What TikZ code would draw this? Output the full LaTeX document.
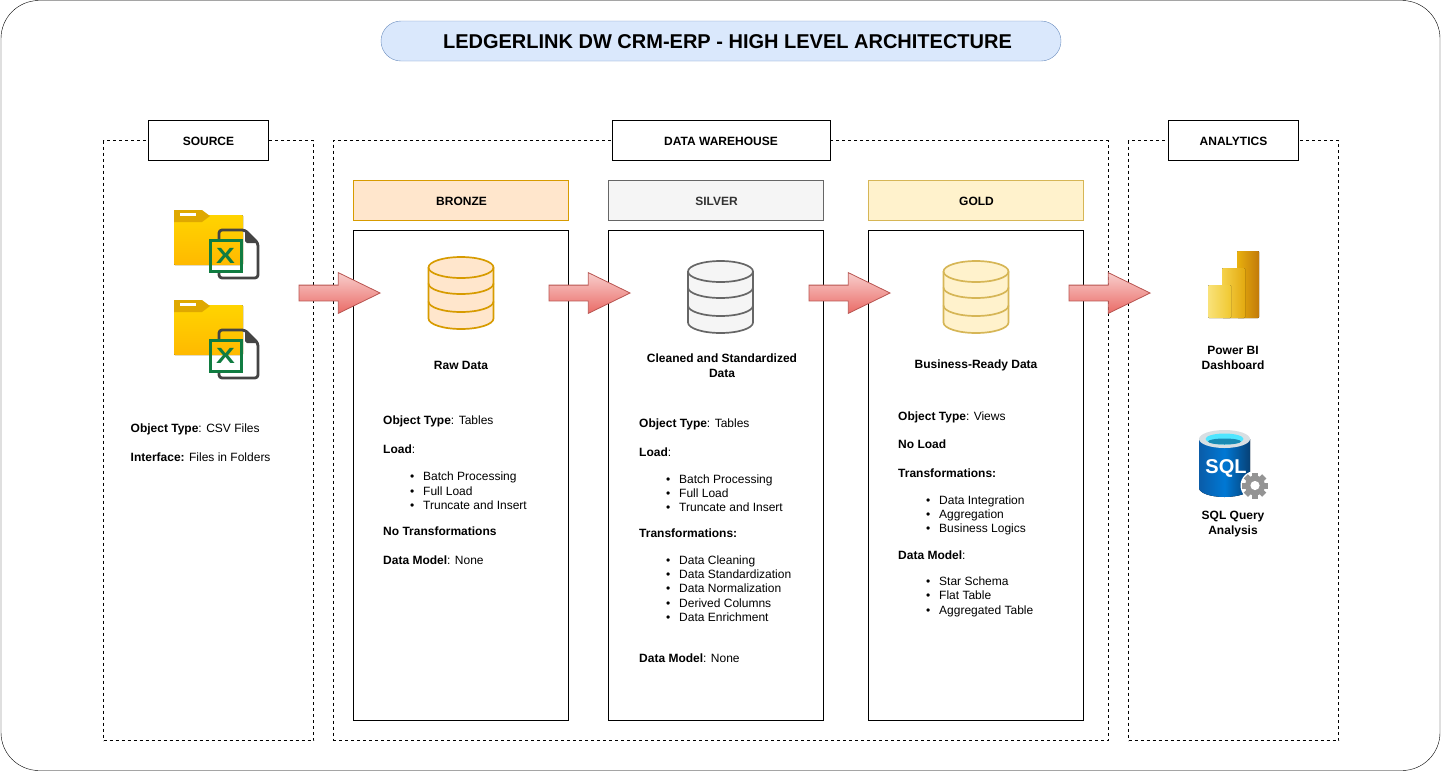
\documentclass[tikz,border=0pt]{standalone}
\usepackage{fontspec}
\setmainfont{Liberation Sans}
\usepackage{xcolor}
\usetikzlibrary{calc, positioning, arrows.meta, shapes.arrows, shapes.geometric}
\definecolor{xlgreen}{HTML}{107C41}
\definecolor{filegray}{HTML}{444444}
\definecolor{arrowline}{HTML}{B85450}
\definecolor{arrowtop}{HTML}{F8CECC}
\definecolor{arrowbot}{HTML}{EA6B66}
\definecolor{folderhi}{HTML}{FFD400}
\definecolor{folderlo}{HTML}{FFB900}
\definecolor{foldertab}{HTML}{DFA800}
\definecolor{geargray}{HTML}{949494}
\definecolor{titleline}{HTML}{6C8EBF}
\definecolor{titlefill}{HTML}{DAE8FC}
\definecolor{bronzefill}{HTML}{FFE6CC}
\definecolor{bronzeline}{HTML}{D79B00}
\definecolor{silverfill}{HTML}{F5F5F5}
\definecolor{silverline}{HTML}{666666}
\definecolor{silvertxt}{HTML}{333333}
\definecolor{goldfill}{HTML}{FFF2CC}
\definecolor{goldline}{HTML}{D6B656}
\definecolor{pbione}{HTML}{E8B00E}
\definecolor{pbitwo}{HTML}{C27A0A}
\definecolor{pbithree}{HTML}{F5D24A}
\definecolor{pbifour}{HTML}{E3A90F}
\definecolor{pbifive}{HTML}{F9E27A}
\definecolor{pbisix}{HTML}{F0C830}
\definecolor{sqlblue}{HTML}{0A5CA8}
\definecolor{sqlmid}{HTML}{0078D4}
\definecolor{sqlrim}{HTML}{D8DFE3}
\definecolor{sqlcyan}{HTML}{50E6FF}
\definecolor{sqldeep}{HTML}{198AB3}
\newcommand{\txtsize}{\fontsize{12}{14}\selectfont}

\tikzset{
    linetxt/.style={inner sep=0pt, anchor=west, text height=8.6pt, text depth=2.6pt, yshift=-1.5pt, font=\txtsize},
    itemtxt/.style={linetxt},
    midtxt/.style={inner sep=0pt, align=center, yshift=-1pt, font=\fontsize{12}{15}\selectfont\bfseries},
    zonebox/.style={draw=black, dash pattern=on 3pt off 3pt, minimum width=#1, minimum height=600pt, inner sep=0pt},
    headbox/.style={draw=black, fill=white, minimum width=#1, minimum height=40pt, inner sep=0pt, text height=10pt, text depth=0pt, font=\txtsize\bfseries},
    layerbox/.style={draw=black, minimum width=215pt, minimum height=490pt, inner sep=0pt},
    tagbox/.style 2 args={draw=#2, fill=#1, minimum width=215pt, minimum height=40pt, inner sep=0pt, text height=10pt, text depth=0pt, execute at begin node=\hspace*{2pt}, font=\txtsize\bfseries},
    flowarrow/.style={single arrow, anchor=tip, draw=arrowline, top color=arrowtop, bottom color=arrowbot, minimum height=81pt, minimum width=40pt, single arrow head extend=12.5pt, single arrow tip angle=52, inner xsep=0pt, inner ysep=7.5pt, line width=0.8pt},
    pics/datacyl/.style 2 args={code={
        \draw[fill=#1, draw=#2, line width=1.7pt] (-32.5,0) -- (-32.5,51) arc (180:360:32.5pt and 10.5pt) -- (32.5,0) arc (0:180:32.5pt and 10.5pt) -- cycle;
        \draw[draw=#2, line width=1.7pt] (-32.5,0) arc (180:360:32.5pt and 10.5pt);
        \draw[draw=#2, line width=1.7pt] (-32.5,16) arc (180:360:32.5pt and 10.5pt);
        \draw[draw=#2, line width=1.7pt] (-32.5,34) arc (180:360:32.5pt and 10.5pt);
    }},
    pics/folderbase/.style={code={
        \fill[top color=folderhi, bottom color=folderlo, rounded corners=1pt] (0,5) rectangle (69,55);
        \fill[foldertab] (0,0) -- (28,0) -- (36,6) -- (28,12) -- (0,12) -- cycle;
        \fill[white] (6,3) rectangle (22,6);
    }},
    pics/xlfile/.style={code={
        \draw[filegray, line width=2.8pt, line join=round, rounded corners=3pt] (10,10) -- (10,0) -- (36,0) -- (49,13) -- (49,48) -- (10,48) -- (10,42);
        \fill[filegray] (36,0) -- (49,13) -- (38,13) -- (36,11) -- cycle;
        \draw[xlgreen, line width=3pt] (1,10.5) rectangle (32,41.5);
        \node[inner sep=0pt, xscale=1.28, text=xlgreen, font=\fontsize{22}{22}\selectfont\bfseries] (xmark) at (16.5,26) {X};
    }},
    pics/gearicon/.style={code={
        \fill[white] (0,0) circle (14.5pt);
        \foreach \ang in {0,45,...,315} {
            \fill[geargray, rotate=\ang] (-3,-13) rectangle (3,0);
        }
        \fill[geargray] (0,0) circle (10pt);
        \fill[white] (0,0) circle (4.6pt);
    }}
}

\begin{document}
\begin{tikzpicture}[x=1pt, y=-1pt, font=\txtsize]
    \useasboundingbox (0,0) rectangle (1441,772);

    % Frame and title
    \node[draw=black, rounded corners=38pt, minimum width=1439pt, minimum height=770pt, inner sep=0pt] (frame) at (720.5,385.5) {};
    \node[draw=titleline, fill=titlefill, rounded corners=20pt, minimum width=680pt, minimum height=40pt, inner sep=0pt, text height=15.6pt, text depth=0pt, font=\fontsize{20}{24}\selectfont\bfseries] (title) at (721,41) {\hspace*{13pt}LEDGERLINK DW CRM-ERP - HIGH LEVEL ARCHITECTURE};

    % Zones
    \node[zonebox=210pt] (srczone) at (208.5,440.5) {};
    \node[zonebox=775pt] (dwzone) at (720.5,440.5) {};
    \node[zonebox=210pt] (anzone) at (1233.5,440.5) {};
    \node[headbox=120pt] (srchead) at (208.5,140.5) {SOURCE};
    \node[headbox=218pt] (dwhead) at (721,140.5) {DATA WAREHOUSE};
    \node[headbox=130pt] (anhead) at (1233.5,140.5) {ANALYTICS};

    % Layers
    \node[tagbox={bronzefill}{bronzeline}] (bronzetag) at (460.5,200.5) {BRONZE};
    \node[tagbox={silverfill}{silverline}, text=silvertxt] (silvertag) at (715.5,200.5) {SILVER};
    \node[tagbox={goldfill}{goldline}] (goldtag) at (975.5,200.5) {GOLD};
    \node[layerbox] (bronzebox) at (460.5,475.5) {};
    \node[layerbox] (silverbox) at (715.5,475.5) {};
    \node[layerbox] (goldbox) at (975.5,475.5) {};

    % Source icons
    \pic at (174,210) {folderbase};
    \pic at (209,230) {xlfile};
    \pic at (174,300) {folderbase};
    \pic at (209,330) {xlfile};
    \node[linetxt] (srctype) at (130.5,428) {\textbf{Object Type}: CSV Files};
    \node[linetxt] (srcif) at (130.5,457) {\textbf{Interface:} Files in Folders};

    % Bronze
    \pic at (461,267.5) {datacyl={bronzefill}{bronzeline}};
    \node[midtxt] (bronzename) at (461,364) {Raw Data};
    \node[linetxt] (brtype) at (383,420) {\textbf{Object Type}: Tables};
    \node[linetxt] (brload) at (383,449) {\textbf{Load}:};
    \foreach \lbl/\y in {Batch Processing/476, Full Load/491, Truncate and Insert/505} {
        \node[itemtxt] (britem\y) at (423,\y) {\llap{•\hspace{9pt}}\lbl};
    }
    \node[linetxt] (brtrans) at (383,531) {\textbf{No Transformations}};
    \node[linetxt] (brmodel) at (383,560) {\textbf{Data Model}: None};

    % Silver
    \pic at (720.5,271.5) {datacyl={silverfill}{silverline}};
    \node[midtxt] (silvername) at (722,364.5) {Cleaned and Standardized\\Data};
    \node[linetxt] (sitype) at (639,423) {\textbf{Object Type}: Tables};
    \node[linetxt] (siload) at (639,452) {\textbf{Load}:};
    \foreach \lbl/\y in {Batch Processing/479, Full Load/493, Truncate and Insert/507} {
        \node[itemtxt] (siitem\y) at (679,\y) {\llap{•\hspace{9pt}}\lbl};
    }
    \node[linetxt] (sitrans) at (639,533) {\textbf{Transformations:}};
    \foreach \lbl/\y in {Data Cleaning/560, Data Standardization/574, Data Normalization/588, Derived Columns/603, Data Enrichment/617} {
        \node[itemtxt] (sistep\y) at (679,\y) {\llap{•\hspace{9pt}}\lbl};
    }
    \node[linetxt] (simodel) at (639,658) {\textbf{Data Model}: None};

    % Gold
    \pic at (976,271.5) {datacyl={goldfill}{goldline}};
    \node[midtxt] (goldname) at (976,364) {Business-Ready Data};
    \node[linetxt] (gotype) at (898,416) {\textbf{Object Type}: Views};
    \node[linetxt] (goload) at (898,444) {\textbf{No Load}};
    \node[linetxt] (gotrans) at (898,473) {\textbf{Transformations:}};
    \foreach \lbl/\y in {Data Integration/500, Aggregation/514, Business Logics/528} {
        \node[itemtxt] (gostep\y) at (939,\y) {\llap{•\hspace{9pt}}\lbl};
    }
    \node[linetxt] (gomodel) at (898,555) {\textbf{Data Model}:};
    \foreach \lbl/\y in {Star Schema/581, Flat Table/595, Aggregated Table/610} {
        \node[itemtxt] (goitem\y) at (939,\y) {\llap{•\hspace{9pt}}\lbl};
    }

    % Power BI
    \fill[left color=pbione, right color=pbitwo, rounded corners=1pt] (1237,251) rectangle (1259,318);
    \fill[left color=pbithree, right color=pbifour, rounded corners=1pt] (1222,268) rectangle (1245,318);
    \fill[left color=pbifive, right color=pbisix, rounded corners=1pt] (1208,285) rectangle (1231,318);
    \node[midtxt] (pbiname) at (1233,356.5) {Power BI\\Dashboard};

    % SQL
    \fill[left color=sqlblue, right color=sqlblue!70!black, middle color=sqlmid] (1199,439) -- (1199,488) arc (180:360:25.5pt and 9pt) -- (1250,439) -- cycle;
    \fill[sqlrim] (1224.5,439) ellipse (25.5pt and 9pt);
    \fill[sqlcyan] (1224.5,439) ellipse (19pt and 5.5pt);
    \fill[sqldeep] (1208,441.5) arc (180:360:16.5pt and 3pt) arc (0:180:16.5pt and 3pt) -- cycle;
    \node[inner sep=0pt, text=white, font=\fontsize{20}{20}\selectfont\bfseries] (sqlmark) at (1226,468.5) {SQL};
    \pic at (1255,485.5) {gearicon};
    \node[midtxt] (sqlname) at (1233,523.5) {SQL Query\\Analysis};

    % Flow arrows
    \node[flowarrow] (flowa) at (381,293) {};
    \node[flowarrow] (flowb) at (631,293) {};
    \node[flowarrow] (flowc) at (891,293) {};
    \node[flowarrow] (flowd) at (1151,293) {};
\end{tikzpicture}
\end{document}
